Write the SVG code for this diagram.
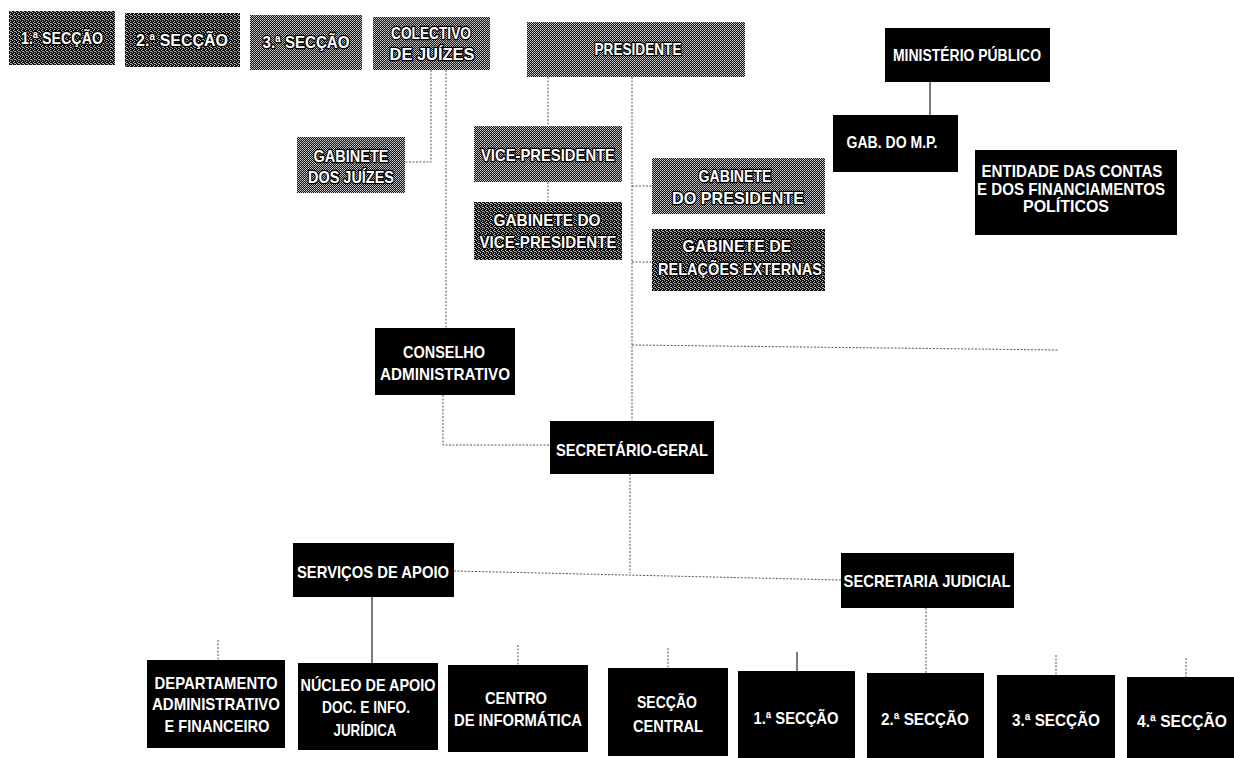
<svg xmlns="http://www.w3.org/2000/svg" width="1234" height="758" viewBox="0 0 1234 758">
<style>
.bk{fill:#000}
.hd{fill:url(#htd)}
.hl{fill:url(#htl)}
text{font-family:"Liberation Sans",Arial,sans-serif;font-weight:bold;font-size:17px;fill:#fff;text-anchor:middle}
.g text{stroke:#000;stroke-width:2.6px;paint-order:stroke;stroke-linejoin:round}
.dot{fill:none;stroke:#555;stroke-width:1;stroke-dasharray:2 1.5}
.sol{fill:none;stroke:#222;stroke-width:1.2}
</style>
<defs>
<pattern id="htd" width="4" height="4" patternUnits="userSpaceOnUse">
<rect width="4" height="4" fill="#111"/>
<rect x="0" y="0" width="1" height="1" fill="#bbb"/>
<rect x="2" y="1" width="1" height="1" fill="#bbb"/>
<rect x="1" y="2" width="1" height="1" fill="#bbb"/>
<rect x="3" y="3" width="1" height="1" fill="#bbb"/>
<rect x="2" y="3" width="1" height="1" fill="#999"/>
</pattern>
<pattern id="htl" width="2" height="2" patternUnits="userSpaceOnUse">
<rect width="2" height="2" fill="#151515"/>
<rect x="0" y="0" width="1" height="1" fill="#c8c8c8"/>
<rect x="1" y="1" width="1" height="1" fill="#a8a8a8"/>
</pattern>
</defs>
<rect width="1234" height="758" fill="#fff"/>

<g id="connectors">
<path class="dot" d="M431 70V162H405"/>
<path class="dot" d="M446 70V328"/>
<path class="dot" d="M443 395V445H549"/>
<path class="dot" d="M632 77V421"/>
<path class="dot" d="M548 77V126"/>
<path class="dot" d="M548 182V202"/>
<path class="dot" d="M632 186H652"/>
<path class="dot" d="M632 262H652"/>
<path class="dot" d="M632 345L1058 350"/>
<path class="sol" d="M930 82V115"/>
<path class="dot" d="M630 474V573"/>
<path class="dot" d="M454 571L841 580"/>
<path class="sol" d="M372 597V663"/>
<path class="dot" d="M218 640V660"/>
<path class="dot" d="M518 645V665"/>
<path class="dot" d="M668 648V668"/>
<path class="sol" d="M797 652V671"/>
<path class="dot" d="M926 608V673"/>
<path class="dot" d="M1056 655V675"/>
<path class="dot" d="M1186 658V677"/>
</g>

<g id="n-s1" class="g"><rect class="hd" x="9" y="11" width="106" height="54"/><text x="62" y="44" textLength="82" lengthAdjust="spacingAndGlyphs">1.ª SECÇÃO</text></g>
<g id="n-s2" class="g"><rect class="hd" x="125" y="13" width="115" height="54"/><text x="182" y="46" textLength="92" lengthAdjust="spacingAndGlyphs">2.ª SECÇÃO</text></g>
<g id="n-s3" class="g"><rect class="hl" x="250" y="15" width="112" height="55"/><text x="306" y="48" textLength="87" lengthAdjust="spacingAndGlyphs">3.ª SECÇÃO</text></g>
<g id="n-colectivo" class="g"><rect class="hl" x="373" y="17" width="117" height="53"/><text x="431" y="39" textLength="80" lengthAdjust="spacingAndGlyphs">COLECTIVO</text><text x="432" y="60" textLength="85" lengthAdjust="spacingAndGlyphs">DE JUÍZES</text></g>
<g id="n-presidente" class="g"><rect class="hl" x="527" y="22" width="218" height="55"/><text x="638" y="55" textLength="87" lengthAdjust="spacingAndGlyphs">PRESIDENTE</text></g>
<g id="n-mp"><rect class="bk" x="885" y="28" width="165" height="54"/><text x="967" y="61" textLength="148" lengthAdjust="spacingAndGlyphs">MINISTÉRIO PÚBLICO</text></g>
<g id="n-gabmp"><rect class="bk" x="833" y="115" width="125" height="57"/><text x="892" y="148" textLength="91" lengthAdjust="spacingAndGlyphs">GAB. DO M.P.</text></g>
<g id="n-entidade"><rect class="bk" x="975" y="150" width="202" height="85"/><text x="1072" y="177" textLength="181" lengthAdjust="spacingAndGlyphs">ENTIDADE DAS CONTAS</text><text x="1071" y="195" textLength="188" lengthAdjust="spacingAndGlyphs">E DOS FINANCIAMENTOS</text><text x="1066" y="212" textLength="86" lengthAdjust="spacingAndGlyphs">POLÍTICOS</text></g>
<g id="n-gabjuizes" class="g"><rect class="hl" x="297" y="137" width="108" height="56"/><text x="351" y="162" textLength="75" lengthAdjust="spacingAndGlyphs">GABINETE</text><text x="351" y="183" textLength="86" lengthAdjust="spacingAndGlyphs">DOS JUÍZES</text></g>
<g id="n-vice" class="g"><rect class="hl" x="474" y="126" width="148" height="56"/><text x="548" y="161" textLength="134" lengthAdjust="spacingAndGlyphs">VICE-PRESIDENTE</text></g>
<g id="n-gabvice" class="g"><rect class="hd" x="474" y="202" width="148" height="58"/><text x="547" y="226" textLength="107" lengthAdjust="spacingAndGlyphs">GABINETE DO</text><text x="548" y="248" textLength="137" lengthAdjust="spacingAndGlyphs">VICE-PRESIDENTE</text></g>
<g id="n-gabpres" class="g"><rect class="hl" x="652" y="158" width="173" height="56"/><text x="735" y="182" textLength="73" lengthAdjust="spacingAndGlyphs">GABINETE</text><text x="738" y="204" textLength="132" lengthAdjust="spacingAndGlyphs">DO PRESIDENTE</text></g>
<g id="n-gabrel" class="g"><rect class="hd" x="652" y="229" width="173" height="62"/><text x="737" y="252" textLength="109" lengthAdjust="spacingAndGlyphs">GABINETE DE</text><text x="740" y="275" textLength="164" lengthAdjust="spacingAndGlyphs">RELAÇÕES EXTERNAS</text></g>
<g id="n-conselho"><rect class="bk" x="375" y="328" width="140" height="67"/><text x="444" y="358" textLength="82" lengthAdjust="spacingAndGlyphs">CONSELHO</text><text x="445" y="380" textLength="130" lengthAdjust="spacingAndGlyphs">ADMINISTRATIVO</text></g>
<g id="n-secger"><rect class="bk" x="550" y="421" width="164" height="53"/><text x="632" y="456" textLength="152" lengthAdjust="spacingAndGlyphs">SECRETÁRIO-GERAL</text></g>
<g id="n-servicos"><rect class="bk" x="293" y="543" width="161" height="54"/><text x="373" y="578" textLength="152" lengthAdjust="spacingAndGlyphs">SERVIÇOS DE APOIO</text></g>
<g id="n-secjud"><rect class="bk" x="841" y="553" width="173" height="55"/><text x="927" y="587" textLength="167" lengthAdjust="spacingAndGlyphs">SECRETARIA JUDICIAL</text></g>
<g id="n-dep"><rect class="bk" x="147" y="660" width="138" height="88"/><text x="216" y="689" textLength="123" lengthAdjust="spacingAndGlyphs">DEPARTAMENTO</text><text x="216" y="710" textLength="128" lengthAdjust="spacingAndGlyphs">ADMINISTRATIVO</text><text x="217" y="732" textLength="105" lengthAdjust="spacingAndGlyphs">E FINANCEIRO</text></g>
<g id="n-nucleo"><rect class="bk" x="298" y="663" width="140" height="87"/><text x="368" y="691" textLength="135" lengthAdjust="spacingAndGlyphs">NÚCLEO DE APOIO</text><text x="366" y="713" textLength="88" lengthAdjust="spacingAndGlyphs">DOC. E INFO.</text><text x="365" y="736" textLength="63" lengthAdjust="spacingAndGlyphs">JURÍDICA</text></g>
<g id="n-centro"><rect class="bk" x="448" y="665" width="140" height="87"/><text x="516" y="704" textLength="62" lengthAdjust="spacingAndGlyphs">CENTRO</text><text x="518" y="726" textLength="128" lengthAdjust="spacingAndGlyphs">DE INFORMÁTICA</text></g>
<g id="n-seccentral"><rect class="bk" x="608" y="668" width="120" height="88"/><text x="667" y="708" textLength="60" lengthAdjust="spacingAndGlyphs">SECÇÃO</text><text x="668" y="732" textLength="70" lengthAdjust="spacingAndGlyphs">CENTRAL</text></g>
<g id="n-sec1"><rect class="bk" x="738" y="671" width="117" height="87"/><text x="796" y="724" textLength="85" lengthAdjust="spacingAndGlyphs">1.ª SECÇÃO</text></g>
<g id="n-sec2"><rect class="bk" x="867" y="673" width="117" height="85"/><text x="925" y="725" textLength="88" lengthAdjust="spacingAndGlyphs">2.ª SECÇÃO</text></g>
<g id="n-sec3"><rect class="bk" x="997" y="675" width="118" height="83"/><text x="1056" y="726" textLength="88" lengthAdjust="spacingAndGlyphs">3.ª SECÇÃO</text></g>
<g id="n-sec4"><rect class="bk" x="1127" y="677" width="107" height="81"/><text x="1182" y="727" textLength="90" lengthAdjust="spacingAndGlyphs">4.ª SECÇÃO</text></g>
</svg>
